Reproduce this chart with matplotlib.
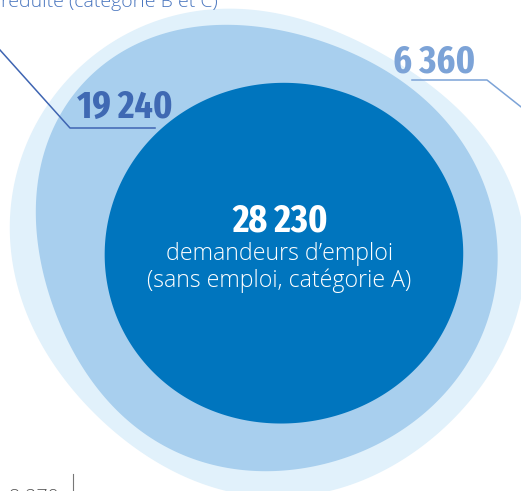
import os
import numpy as np
import matplotlib.pyplot as plt
from matplotlib import font_manager as fm

# demandeurs d'emploi : noyau (cat. A) puis couronnes successives
values = [28230, 19240, 6360]
names = ["catégorie A", "catégories B et C", "catégories D et E"]
center_lines = ["demandeurs d\u2019emploi", "(sans emploi, catégorie A)"]
top_text = "réduite (catégorie B et C)"
bottom_value = "8 270"

# style
colors = ["#0075BE", "#A8CFEE", "#E1F1FB"]
label_colors = ["white", "#3F69B3", "#7CA3D7"]
centers = [(284, 253), (268, 249), (266, 251)]
# relative blob outlines, sampled every 30 deg (0 = right, 90 = down)
profiles = [
    [179, 176.6, 172.1, 170, 174, 178, 179, 176.6, 172.1, 170, 172.1, 176.6],
    [228, 228, 222, 221, 220, 219, 227, 245, 240, 219, 212, 219],
    [258, 253, 250, 243, 238, 238, 254, 263, 254, 241, 226, 244],
]
px_per_sqrt = 1.0416   # area scale
min_band = 21          # thinnest ring still drawn visibly


def blob(cx, cy, R, profile, n=500):
    prof = np.asarray(profile, float)
    prof = prof / np.sqrt(np.mean(prof ** 2))
    c = np.fft.rfft(prof) / len(prof)
    t = np.linspace(0, 2 * np.pi, n, endpoint=False)
    r = np.full_like(t, c[0].real)
    for k in range(1, 5):
        r += 2 * (c[k] * np.exp(1j * k * t)).real
    return cx + R * r * np.cos(t), cy + R * r * np.sin(t)


def narrow_bold_font():
    # pick a condensed bold face if the machine has one
    best, best_score = None, -1
    for f in fm.fontManager.ttflist:
        nm = (f.name + " " + os.path.basename(f.fname)).lower()
        if "italic" in nm or "oblique" in nm:
            continue
        bold = f.weight in ("bold", 700, 800, "heavy", "extra bold") or "bold" in nm
        if not bold:
            continue
        flat = nm.replace(" ", "").replace("-", "")
        score = 0
        if "extracondensed" in flat or f.stretch == "extra-condensed":
            score = 4
        elif "semicondensed" in flat or f.stretch == "semi-condensed":
            score = 2
        elif "condensed" in nm or "narrow" in nm or f.stretch == "condensed":
            score = 3
        if "extrabold" in flat or "black" in nm:
            score -= 0.5
        if score > best_score and score > 0:
            best, best_score = f, score
    if best is None:
        return fm.FontProperties(family="DejaVu Sans", weight="bold")
    return fm.FontProperties(fname=best.fname)


cum = np.cumsum(values)
radii = []
for i, v in enumerate(cum):
    R = px_per_sqrt * np.sqrt(v)
    if i > 0:
        R = max(R, radii[-1] + min_band)
    radii.append(R)

fig = plt.figure(figsize=(5.21, 4.91), dpi=100)
ax = fig.add_axes([0, 0, 1, 1])
ax.set_xlim(0, 521)
ax.set_ylim(491, 0)
ax.axis("off")

for i in reversed(range(len(values))):
    x, y = blob(centers[i][0], centers[i][1], radii[i], profiles[i])
    ax.fill(x, y, color=colors[i], lw=0, zorder=3 - i)


def fmt(v):
    return f"{v:,}".replace(",", " ")


num_fp = narrow_bold_font()
body_font = dict(family=["Open Sans", "DejaVu Sans"], fontweight="light")

# noyau
t0 = ax.text(280, 232, fmt(values[0]), color=label_colors[0], ha="center",
             va="baseline", zorder=10, fontproperties=num_fp)
ax.text(280, 260, center_lines[0], color="white", ha="center",
        va="baseline", fontsize=16.7, zorder=10, **body_font)
ax.text(279, 287, center_lines[1], color="white", ha="center",
        va="baseline", fontsize=16.7, zorder=10, **body_font)

# couronne B et C
t1 = ax.text(125, 118, fmt(values[1]), color=label_colors[1], ha="center",
             va="baseline", zorder=10, fontproperties=num_fp)
ax.plot([0, 70, 155], [50, 128, 128], color="#3F65B2", lw=1.1, zorder=10)
ax.text(218, 7, top_text, color="#4A76BF", ha="right", va="baseline",
        fontsize=14, zorder=10, **body_font)

# couronne D et E
t2 = ax.text(434, 72, fmt(values[2]), color=label_colors[2], ha="center",
             va="baseline", zorder=10, fontproperties=num_fp)
ax.plot([412, 487, 530], [80, 80, 114], color="#7CA3D7", lw=1.1, zorder=10)

# size the big numbers so "19 240" is ~96 px wide
renderer = fig.canvas.get_renderer()
for t in (t0, t1, t2):
    t.set_fontsize(28)
w = t1.get_window_extent(renderer).width
size = min(28 * 96 / w, 30)
for t in (t0, t1, t2):
    t.set_fontsize(size)

# bas de page
ax.text(34, 502, bottom_value, color="#555555", ha="center", va="baseline",
        fontsize=14, zorder=10, **body_font)
ax.plot([73, 73], [474, 495], color="#777777", lw=0.8, zorder=10)

fig.savefig("out.png", dpi=100)
